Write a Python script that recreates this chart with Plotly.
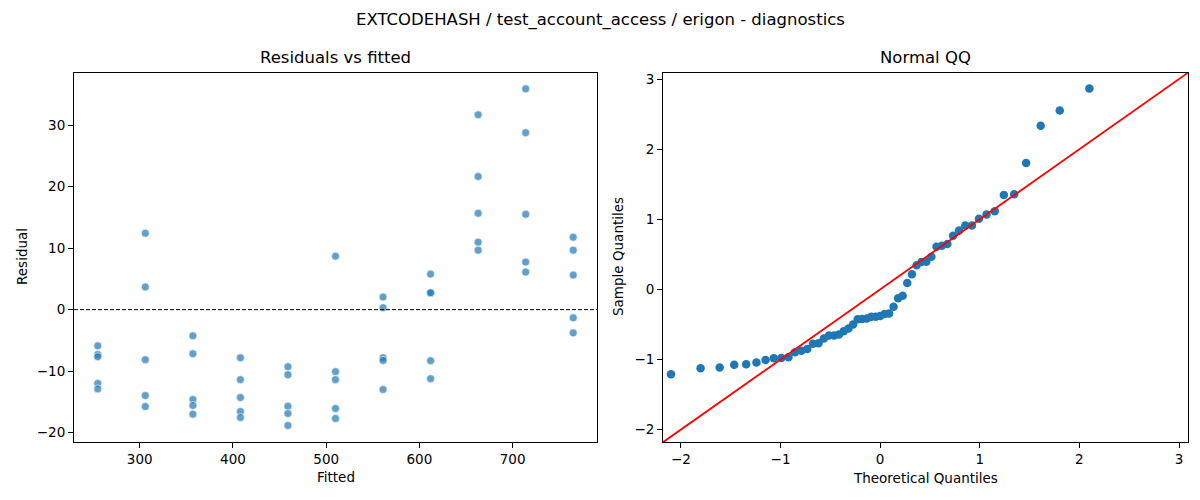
import statistics
import numpy as np
import plotly.graph_objects as go

# fitted value of each group and the residuals read for it
fitted_levels = [255, 306, 357, 408, 459, 510, 561, 612, 663, 714, 765]
residual_groups = [
    [-5.89, -7.29, -7.67, -12.0, -12.9],
    [12.43, 3.68, -8.15, -13.98, -15.77],
    [-4.27, -7.18, -14.63, -15.60, -17.01],
    [-7.83, -11.39, -14.31, -16.58, -17.55],
    [-9.29, -10.58, -15.72, -16.91, -18.85],
    [8.70, -10.09, -11.39, -16.09, -17.71],
    [2.05, 0.32, -7.83, -8.26, -13.01],
    [5.78, 2.70, 2.75, -8.31, -11.23],
    [31.71, 21.66, 15.67, 10.97, 9.67],
    [35.92, 28.79, 15.51, 7.73, 6.11],
    [11.78, 9.67, 5.62, -1.34, -3.78],
]

fitted = []
resid = []
for f, grp in zip(fitted_levels, residual_groups):
    for r in grp:
        fitted.append(f)
        resid.append(r)

# normal QQ of the standardised residuals
res = np.array(resid)
sample_q = np.sort((res - res.mean()) / res.std(ddof=1))
n = len(sample_q)
nd = statistics.NormalDist()
theo_q = [nd.inv_cdf(i / (n + 1)) for i in range(1, n + 1)]

qq_lim = [-2.18, 3.09]
resid_xlim = [229.5, 790.5]
font = "DejaVu Sans, Liberation Sans, sans-serif"

# page body has an 8px margin, so the figure is drawn 8px in from the corner
W, H, OFF = 1184, 484, 8


def px(x):
    return (x - OFF) / W


def py(y):
    return 1 - (y - OFF) / H


fig = go.Figure()
fig.add_trace(go.Scatter(
    x=fitted, y=resid, mode="markers",
    marker=dict(size=8, color="rgba(31,119,180,0.7)",
                line=dict(color="white", width=0.6)),
    xaxis="x", yaxis="y", showlegend=False,
))
fig.add_trace(go.Scatter(
    x=resid_xlim, y=[0, 0], mode="lines",
    line=dict(color="black", width=1, dash="4px,2px"),
    xaxis="x", yaxis="y", showlegend=False,
))
fig.add_trace(go.Scatter(
    x=theo_q, y=sample_q, mode="markers",
    marker=dict(size=8.5, color="#1f77b4"),
    xaxis="x2", yaxis="y2", showlegend=False,
))
fig.add_trace(go.Scatter(
    x=qq_lim, y=qq_lim, mode="lines",
    line=dict(color="red", width=1.8),
    xaxis="x2", yaxis="y2", showlegend=False,
))

axis_style = dict(
    showline=True, linecolor="black", linewidth=1, mirror=True,
    ticks="outside", ticklen=5, tickcolor="black", showgrid=False,
    zeroline=False, tickfont=dict(size=13.5, color="black"),
)


def label(text, x, y, size=13.5, angle=0):
    return dict(text=text, x=px(x), y=py(y), xref="paper", yref="paper",
                xanchor="center", yanchor="middle", textangle=angle,
                showarrow=False, font=dict(size=size, color="black"))


fig.update_layout(
    width=W, height=H,
    margin=dict(l=0, r=0, t=0, b=0),
    plot_bgcolor="white", paper_bgcolor="white",
    font=dict(family=font, color="black"),
    xaxis=dict(domain=[px(74), px(597)], range=resid_xlim,
               tickvals=[300, 400, 500, 600, 700], anchor="y", **axis_style),
    yaxis=dict(domain=[py(442), py(71)], range=[-21.57, 38.54],
               tickvals=[-20, -10, 0, 10, 20, 30], anchor="x", **axis_style),
    xaxis2=dict(domain=[px(663), px(1188)], range=qq_lim,
                tickvals=[-2, -1, 0, 1, 2, 3], anchor="y2", **axis_style),
    yaxis2=dict(domain=[py(442), py(71)], range=qq_lim,
                tickvals=[-2, -1, 0, 1, 2, 3], anchor="x2", **axis_style),
    annotations=[
        label("EXTCODEHASH / test_account_access / erigon - diagnostics", 600, 18, 16.5),
        label("Residuals vs fitted", 335.5, 56, 16.5),
        label("Normal QQ", 925.5, 56, 16.5),
        label("Fitted", 335.5, 477),
        label("Theoretical Quantiles", 925.5, 478),
        label("Residual", 22, 256, angle=-90),
        label("Sample Quantiles", 618, 256, angle=-90),
    ],
)

fig.write_html("out.html")
